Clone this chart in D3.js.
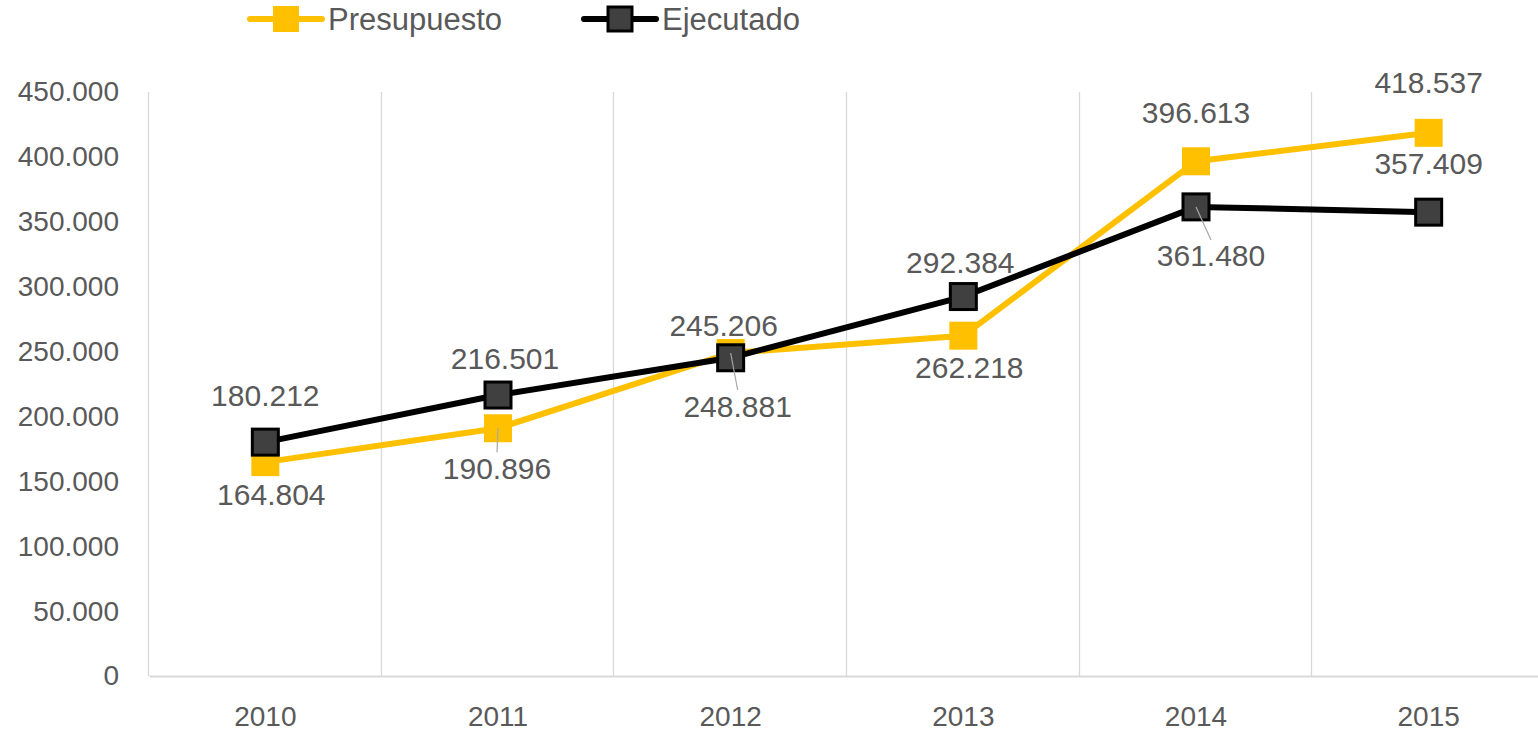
<!DOCTYPE html>
<html>
<head>
<meta charset="utf-8">
<script src="https://cdn.jsdelivr.net/npm/d3@7"></script>
<style>
  body { margin: 0; background: #fff; }
  text { font-family: "Liberation Sans", Arial, sans-serif; fill: #595959; }
</style>
</head>
<body>
<script>
var years = ["2010", "2011", "2012", "2013", "2014", "2015"];
var presupuesto = [164804, 190896, 248881, 262218, 396613, 418537];
var ejecutado = [180212, 216501, 245206, 292384, 361480, 357409];
var yTicks = [0, 50000, 100000, 150000, 200000, 250000, 300000, 350000, 400000, 450000];

// where each value label sits, relative to its marker
var presLabelDx = [6, -1, 7, 6, 0, 0];
var presLabelDy = [32, 40, 53, 32, -49, -50];
var presLeader = [false, true, true, false, false, false];
var ejecLabelDx = [0, 7, -7, -3, 15, 0];
var ejecLabelDy = [-47, -37, -32, -34, 49, -49];
var ejecLeader = [false, false, false, false, true, false];

var width = 1538;
var height = 734;
var margin = ({ top: 92, right: -7, bottom: 58, left: 149 });

var locale = d3.formatLocale({ decimal: ",", thousands: ".", grouping: [3], currency: ["", ""] });
var fmt = locale.format(",d");

let svg = d3.select('body').append('svg')
    .attr('width', width)
    .attr('height', height);

var x = d3.scaleBand()
    .domain(years)
    .range([margin.left, width - margin.right])
    .padding(0);

var y = d3.scaleLinear()
    .domain([0, 450000])
    .range([height - margin.bottom, margin.top]);

var cx = d => x(d) + x.bandwidth() / 2;

// vertical gridlines at category borders
svg.append("g")
    .selectAll("line")
    .data(years)
    .enter()
    .append("line")
    .attr("x1", d => Math.round(x(d)) - 0.5)
    .attr("x2", d => Math.round(x(d)) - 0.5)
    .attr("y1", y(450000))
    .attr("y2", y(0))
    .attr("stroke", "#d9d9d9")
    .attr("stroke-width", 1.3);

// x axis
var xAxis = g => g
    .attr("transform", `translate(0,${y(0)})`)
    .call(d3.axisBottom(x).tickSize(0).tickPadding(30))
    .call(g => g.select(".domain").attr("stroke", "#d9d9d9").attr("stroke-width", 2))
    .call(g => g.selectAll("text").attr("font-size", 28).attr("fill", "#595959")
        .attr("font-family", "Liberation Sans, Arial, sans-serif"));

var yAxis = g => g
    .attr("transform", `translate(${margin.left},0)`)
    .call(d3.axisLeft(y).tickValues(yTicks).tickSize(0).tickPadding(30)
        .tickFormat(d => d === 0 ? "0" : fmt(d)))
    .call(g => g.select(".domain").remove())
    .call(g => g.selectAll("text").attr("font-size", 28).attr("fill", "#595959")
        .attr("font-family", "Liberation Sans, Arial, sans-serif"));

svg.append("g").call(xAxis);
svg.append("g").call(yAxis);

var line = d3.line()
    .x((d, i) => cx(years[i]))
    .y(d => y(d));

var series = [
    { name: "Presupuesto", values: presupuesto, color: "#ffc000", fill: "#ffc000", stroke: "none",
      dx: presLabelDx, dy: presLabelDy, leader: presLeader },
    { name: "Ejecutado", values: ejecutado, color: "#000000", fill: "#404040", stroke: "#000000",
      dx: ejecLabelDx, dy: ejecLabelDy, leader: ejecLeader }
];

series.forEach(function (s) {
    svg.append("path")
        .datum(s.values)
        .attr("fill", "none")
        .attr("stroke", s.color)
        .attr("stroke-width", 6)
        .attr("stroke-linejoin", "round")
        .attr("d", line);

    var size = s.stroke === "none" ? 28 : 26;
    svg.append("g")
        .selectAll("rect")
        .data(s.values)
        .enter()
        .append("rect")
        .attr("x", (d, i) => cx(years[i]) - size / 2)
        .attr("y", d => y(d) - size / 2)
        .attr("width", size)
        .attr("height", size)
        .attr("fill", s.fill)
        .attr("stroke", s.stroke)
        .attr("stroke-width", s.stroke === "none" ? 0 : 3);
});

// value labels with optional leader lines
series.forEach(function (s) {
    s.values.forEach(function (v, i) {
        var px = cx(years[i]), py = y(v);
        var lx = px + s.dx[i], ly = py + s.dy[i];
        if (s.leader[i]) {
            svg.append("line")
                .attr("x1", px)
                .attr("y1", py)
                .attr("x2", lx)
                .attr("y2", ly + (s.dy[i] > 0 ? -16 : 16))
                .attr("stroke", "#a6a6a6")
                .attr("stroke-width", 1.2);
        }
        svg.append("text")
            .attr("x", lx)
            .attr("y", ly)
            .attr("dy", "0.35em")
            .attr("text-anchor", "middle")
            .attr("font-size", 30)
            .text(fmt(v));
    });
});

// legend
var legend = svg.append("g");
var legendItems = [
    { name: "Presupuesto", color: "#ffc000", fill: "#ffc000", stroke: "none", x: 250 },
    { name: "Ejecutado", color: "#000000", fill: "#404040", stroke: "#000000", x: 584 }
];
legendItems.forEach(function (d) {
    var g = legend.append("g").attr("transform", `translate(${d.x},19)`);
    g.append("line")
        .attr("x1", 0).attr("x2", 72)
        .attr("stroke", d.color)
        .attr("stroke-width", 6)
        .attr("stroke-linecap", "round");
    var size = d.stroke === "none" ? 26 : 24;
    g.append("rect")
        .attr("x", 36 - size / 2).attr("y", -size / 2)
        .attr("width", size).attr("height", size)
        .attr("fill", d.fill)
        .attr("stroke", d.stroke)
        .attr("stroke-width", d.stroke === "none" ? 0 : 3);
    g.append("text")
        .attr("x", 78)
        .attr("dy", "0.35em")
        .attr("font-size", 31)
        .text(d.name);
});
</script>
</body>
</html>
